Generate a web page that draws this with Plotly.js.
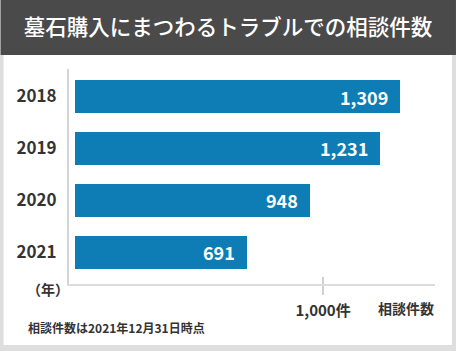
<!DOCTYPE html>
<html><head><meta charset="utf-8">
<script src="https://cdn.plot.ly/plotly-3.0.1.min.js"></script>
<style>html,body{margin:0;padding:0;background:#dedede;}#chart{width:456px;height:351px;}</style>
</head><body><div id="chart"></div>
<script>
// data
const years = ['2018', '2019', '2020', '2021'];
const counts = [1309, 1231, 948, 691];
const tickVals = [1000];
const tickLabels = ['1,000件'];
const titleText = '墓石購入にまつわるトラブルでの相談件数';
const unitYear = '（年）';
const unitCount = '相談件数';
const footnote = '相談件数は2021年12月31日時点';

const FONT = '"Noto Sans CJK JP", "Noto Sans", sans-serif';
const W = 456, H = 351;
const L = 68.5, R = 435, T = 69, B = 284;
const pw = R - L, ph = B - T;
const px2x = p => (p - L) / pw;
const px2y = p => (B - p) / ph;

const trace = {
  type: 'bar', orientation: 'h',
  x: counts, y: years,
  width: 0.635,
  marker: {color: '#0e7db5', line: {width: 0}},
  hoverinfo: 'none'
};

const annotations = counts.map((v, i) => ({
  x: v, y: i, xref: 'x', yref: 'y',
  text: v.toLocaleString('en-US'), showarrow: false,
  xanchor: 'right', yanchor: 'middle', xshift: -10,
  font: {family: FONT, size: 18, color: '#ffffff', weight: 700}
}));
annotations.push(
  {x: px2x(47), y: px2y(289), xref: 'paper', yref: 'paper', text: unitYear, showarrow: false,
   xanchor: 'center', yanchor: 'middle', font: {family: FONT, size: 14, color: '#333', weight: 700}},
  {x: px2x(436), y: px2y(308), xref: 'paper', yref: 'paper', text: unitCount, showarrow: false,
   xanchor: 'right', yanchor: 'middle', font: {family: FONT, size: 14, color: '#333', weight: 700}},
  {x: px2x(25), y: px2y(327), xref: 'paper', yref: 'paper', text: footnote, showarrow: false,
   xanchor: 'left', yanchor: 'middle', font: {family: FONT, size: 12, color: '#333', weight: 700}}
);

const shapes = [
  {type: 'rect', xref: 'paper', yref: 'paper', layer: 'below',
   x0: px2x(3), x1: px2x(452), y0: px2y(345), y1: px2y(55),
   fillcolor: '#ffffff', line: {width: 0}},
  {type: 'rect', xref: 'paper', yref: 'paper', layer: 'below',
   x0: px2x(0), x1: px2x(456), y0: px2y(55), y1: px2y(0),
   fillcolor: '#4a4a4a', line: {width: 0}}
];

const xr = [-26, 1452];
const layout = {
  width: W, height: H,
  margin: {l: L, r: W - R, t: T, b: H - B, pad: 0},
  paper_bgcolor: '#dedede', plot_bgcolor: 'rgba(0,0,0,0)',
  showlegend: false,
  title: {text: titleText, x: 0.5, xanchor: 'center', y: 1 - 27 / H, yanchor: 'middle',
          xref: 'container', yref: 'container',
          font: {family: FONT, size: 21.5, color: '#ffffff', weight: 500}},
  xaxis: {range: xr, fixedrange: true, showgrid: false, zeroline: false,
          showline: true, linecolor: '#dcdcdc', linewidth: 2,
          ticks: 'outside', ticklen: 9, tickcolor: '#d0d0d0', tickwidth: 1.5,
          tickvals: tickVals, ticktext: tickLabels, ticklabelstandoff: 3,
          tickfont: {family: FONT, size: 15, color: '#333', weight: 700}},
  xaxis2: {range: xr, overlaying: 'x', anchor: 'y', side: 'bottom', fixedrange: true,
           showgrid: false, zeroline: false, showline: false,
           ticks: 'inside', ticklen: 7, tickcolor: '#d0d0d0', tickwidth: 1.5,
           tickvals: tickVals, showticklabels: false},
  yaxis: {type: 'category', range: [3.61, -0.53], fixedrange: true,
          showgrid: false, zeroline: false, showline: true, linecolor: '#d4d4d4', linewidth: 2,
          ticks: '', ticklabelstandoff: 7,
          tickfont: {family: FONT, size: 17, color: '#333', weight: 700}},
  annotations: annotations,
  shapes: shapes,
  bargap: 0
};

const dummy = {type: 'scatter', x: [xr[0]], y: [years[0]], xaxis: 'x2', yaxis: 'y',
               mode: 'markers', marker: {opacity: 0}, hoverinfo: 'none'};

Plotly.newPlot('chart', [trace, dummy], layout, {staticPlot: true, displayModeBar: false});
</script></body></html>
